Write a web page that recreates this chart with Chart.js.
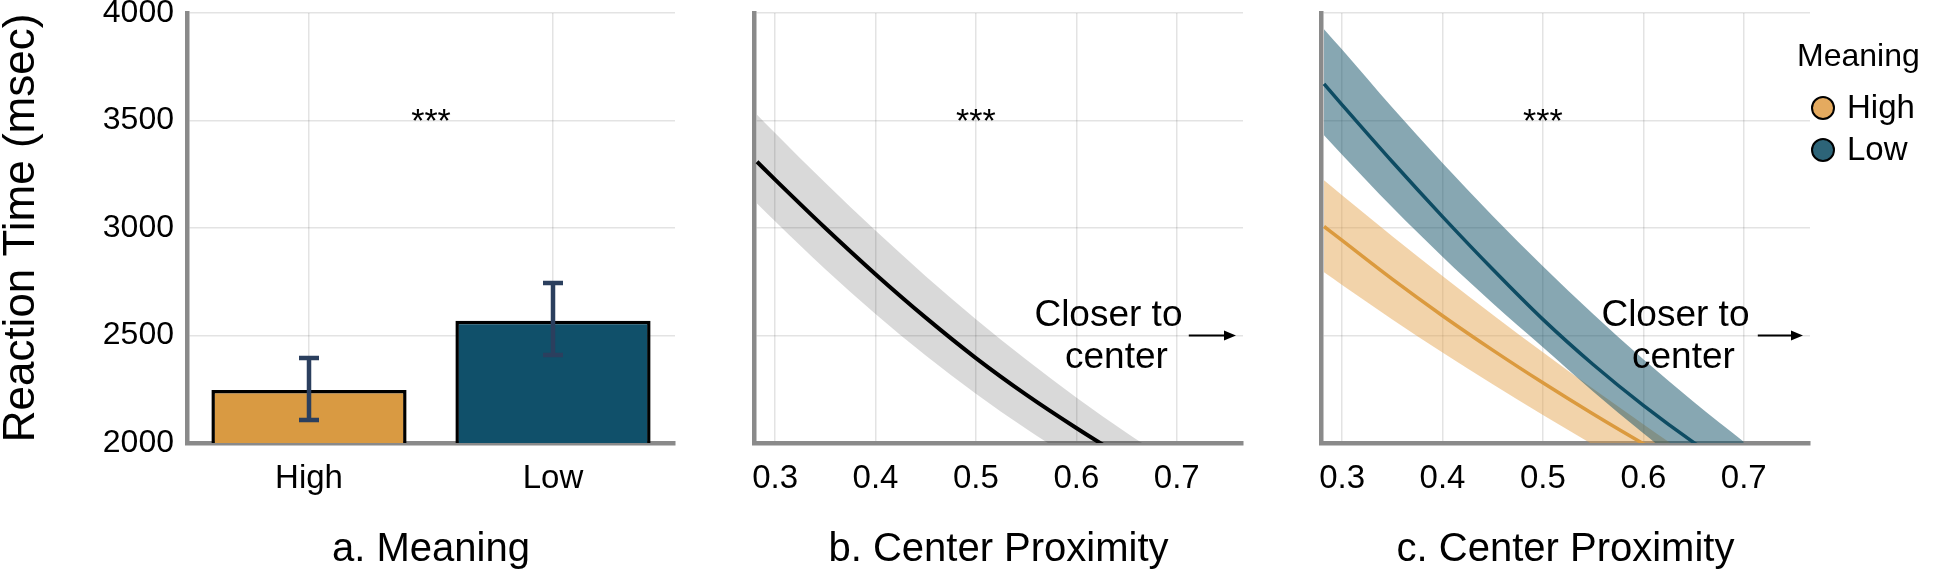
<!DOCTYPE html>
<html><head><meta charset="utf-8">
<script src="https://cdn.jsdelivr.net/npm/chart.js@4.4.1/dist/chart.umd.min.js"></script>
<style>
html,body{margin:0;padding:0;background:#fff;width:1933px;height:574px;overflow:hidden;}
.p{position:absolute;top:0;height:574px;}
</style></head><body>
<div class="p" style="left:0;width:700px"><canvas id="ca"></canvas></div>
<div class="p" style="left:730px;width:533px"><canvas id="cb"></canvas></div>
<div class="p" style="left:1297px;width:636px"><canvas id="cc"></canvas></div>
<script>
// ---------- data ----------
const meaningCats = ['High', 'Low'];
const meanRT = [2246, 2569];
const errLow = [2107, 2409];
const errHigh = [2395, 2744];

const proxX = [0.282, 0.30, 0.35, 0.40, 0.45, 0.50, 0.55, 0.60, 0.65, 0.70];
const allFit   = [3308, 3225, 3000, 2785, 2583, 2395, 2225, 2070, 1925, 1790];
const allUpper = [3527, 3442, 3210, 2988, 2776, 2576, 2388, 2212, 2048, 1896];
const allLower = [3114, 3031, 2808, 2600, 2407, 2229, 2066, 1918, 1785, 1667];

const highFit   = [3007, 2942, 2762, 2592, 2432, 2280, 2135, 1997, 1867, 1745];
const highUpper = [3222, 3152, 2962, 2777, 2597, 2422, 2252, 2087, 1927, 1772];
const highLower = [2794, 2735, 2575, 2421, 2273, 2130, 1992, 1859, 1730, 1605];

const lowFit   = [3670, 3573, 3308, 3053, 2808, 2575, 2365, 2175, 2003, 1848];
const lowUpper = [3925, 3830, 3560, 3302, 3056, 2822, 2600, 2390, 2192, 2006];
const lowLower = [3431, 3341, 3096, 2866, 2650, 2445, 2240, 2045, 1860, 1690];

const yTicks = [2000, 2500, 3000, 3500, 4000];
const yTickLabels = ['2000', '2500', '3000', '3500', '4000'];
const xTicks = [0.3, 0.4, 0.5, 0.6, 0.7];
const xTickLabels = ['0.3', '0.4', '0.5', '0.6', '0.7'];
const legendLabels = ['High', 'Low'];

// ---------- styles ----------
const FONT = "'Liberation Sans', Arial, Helvetica, sans-serif";
Chart.defaults.font.family = FONT;
Chart.defaults.color = '#000';
const GRID = 'rgba(0,0,0,0.11)';
const AXIS = '#8a8a8a';
const ORANGE = '#D99A42';

function pts(xs, ys) { return xs.map((x, i) => ({x: x, y: ys[i]})); }

function yScale(showLabels, w) {
  return {
    type: 'linear', min: 2000, max: 4000,
    afterBuildTicks: s => { s.ticks = yTicks.map(v => ({value: v})); },
    grid: {color: GRID, lineWidth: 1.5, drawTicks: false},
    border: {color: AXIS, width: 4.5},
    ticks: {display: showLabels, padding: 13, font: {size: 32, lineHeight: 1}, color: '#000',
            callback: (v, i) => yTickLabels[i]},
    title: showLabels ? {display: true, text: 'Reaction Time (msec)', font: {size: 44, lineHeight: 1}, padding: 0, color: '#000'} : {display: false},
    afterFit: s => { s.width = w; s.paddingTop = 0; s.paddingBottom = 0; }
  };
}
function xTitle(t) {
  return {display: true, text: t, font: {size: 40, lineHeight: 1.2}, padding: 0, color: '#000'};
}
function xLinear(t) {
  return {
    type: 'linear', min: 0.279, max: 0.766,
    afterBuildTicks: s => { s.ticks = xTicks.map(v => ({value: v})); },
    grid: {color: GRID, lineWidth: 1.5, drawTicks: false},
    border: {color: AXIS, width: 4.5},
    ticks: {padding: 16, font: {size: 33, lineHeight: 1.2}, color: '#000', callback: (v, i) => xTickLabels[i]},
    title: xTitle(t),
    afterFit: s => { s.height = 131; s.paddingLeft = 0; s.paddingRight = 0; }
  };
}

// ---------- plugins ----------
const errorBars = {
  id: 'errorBars',
  afterDatasetsDraw(chart) {
    const meta = chart.getDatasetMeta(0);
    const y = chart.scales.y;
    const ctx = chart.ctx;
    ctx.save();
    ctx.strokeStyle = '#2B3F5E';
    ctx.lineWidth = 4.5;
    meta.data.forEach((bar, i) => {
      const yl = y.getPixelForValue(errLow[i]);
      const yh = y.getPixelForValue(errHigh[i]);
      ctx.beginPath();
      ctx.moveTo(bar.x, yl); ctx.lineTo(bar.x, yh);
      ctx.moveTo(bar.x - 10, yl); ctx.lineTo(bar.x + 10, yl);
      ctx.moveTo(bar.x - 10, yh); ctx.lineTo(bar.x + 10, yh);
      ctx.stroke();
    });
    ctx.restore();
  }
};

const annot = {
  id: 'annot',
  afterDraw(chart, args, o) {
    const ctx = chart.ctx, xs = chart.scales.x, ys = chart.scales.y;
    ctx.save();
    ctx.fillStyle = '#000';
    ctx.strokeStyle = '#000';
    if (o.stars) {
      ctx.font = '34px ' + FONT;
      ctx.textAlign = 'center';
      ctx.textBaseline = 'alphabetic';
      ctx.fillText('***', xs.getPixelForValue(o.stars.x), ys.getPixelForValue(o.stars.y));
    }
    if (o.note) {
      const n = o.note;
      ctx.font = '37px ' + FONT;
      ctx.textAlign = 'center';
      ctx.textBaseline = 'middle';
      const nx = xs.getPixelForValue(n.x);
      ctx.fillText('Closer to', nx, ys.getPixelForValue(n.y1));
      ctx.fillText('center', nx + 8, ys.getPixelForValue(n.y2));
      const x0 = xs.getPixelForValue(n.ax0), x1 = xs.getPixelForValue(n.ax1), ay = ys.getPixelForValue(n.ay);
      ctx.lineWidth = 2;
      ctx.beginPath(); ctx.moveTo(x0, ay); ctx.lineTo(x1 - 8, ay); ctx.stroke();
      ctx.beginPath(); ctx.moveTo(x1, ay); ctx.lineTo(x1 - 12, ay - 5); ctx.lineTo(x1 - 12, ay + 5); ctx.closePath(); ctx.fill();
    }
    ctx.restore();
  }
};

const meaningLegend = {
  id: 'meaningLegend',
  afterDraw(chart, args, o) {
    const ctx = chart.ctx;
    ctx.save();
    ctx.fillStyle = '#000';
    ctx.textBaseline = 'middle';
    ctx.textAlign = 'left';
    ctx.font = '32px ' + FONT;
    ctx.fillText(o.title, o.x, o.y0);
    ctx.font = '33px ' + FONT;
    legendLabels.forEach((lab, i) => {
      const cy = o.y1 + i * o.dy;
      ctx.beginPath();
      ctx.arc(o.x + 26, cy, 11, 0, Math.PI * 2);
      ctx.fillStyle = o.colors[i];
      ctx.fill();
      ctx.lineWidth = 2;
      ctx.strokeStyle = '#000';
      ctx.stroke();
      ctx.fillStyle = '#000';
      ctx.fillText(lab, o.x + 50, cy + 1);
    });
    ctx.restore();
  }
};

const common = {
  responsive: true, maintainAspectRatio: false, animation: false, events: [],
};

// ---------- panel a ----------
new Chart(document.getElementById('ca'), {
  type: 'bar',
  data: {
    labels: meaningCats,
    datasets: [{
      data: meanRT,
      backgroundColor: [ORANGE, '#10506A'],
      borderColor: '#000', borderWidth: 3.5,
      barPercentage: 0.8, categoryPercentage: 1.0
    }]
  },
  options: Object.assign({}, common, {
    layout: {padding: {top: 13, right: 25, bottom: 0, left: 0}},
    plugins: {legend: {display: false}, tooltip: {enabled: false},
      annot: {stars: {x: 0.5, y: 3448}}},
    scales: {
      x: {
        type: 'category', offset: true,
        grid: {color: GRID, lineWidth: 1.5, drawTicks: false, offset: false},
        border: {color: AXIS, width: 4.5},
        ticks: {padding: 16, font: {size: 33, lineHeight: 1.2}, color: '#000'},
        title: xTitle('a. Meaning'),
        afterFit: s => { s.height = 131; s.paddingLeft = 0; s.paddingRight = 0; }
      },
      y: yScale(true, 187)
    }
  }),
  plugins: [errorBars, annot]
});

// ---------- panel b ----------
new Chart(document.getElementById('cb'), {
  type: 'line',
  data: {
    datasets: [
      {data: pts(proxX, allFit), borderColor: '#000', borderWidth: 4, pointRadius: 0, fill: false, cubicInterpolationMode: 'monotone'},
      {data: pts(proxX, allUpper), borderWidth: 0, pointRadius: 0, backgroundColor: 'rgba(0,0,0,0.15)', fill: '+1', cubicInterpolationMode: 'monotone'},
      {data: pts(proxX, allLower), borderWidth: 0, pointRadius: 0, fill: false, cubicInterpolationMode: 'monotone'}
    ]
  },
  options: Object.assign({}, common, {
    layout: {padding: {top: 13, right: 20, bottom: 0, left: 0}},
    plugins: {legend: {display: false}, tooltip: {enabled: false},
      annot: {stars: {x: 0.5, y: 3448}, note: {x: 0.632, y1: 2590, y2: 2395, ax0: 0.712, ax1: 0.759, ay: 2500}}},
    scales: {x: xLinear('b. Center Proximity'), y: yScale(false, 24)}
  }),
  plugins: [annot]
});

// ---------- panel c ----------
new Chart(document.getElementById('cc'), {
  type: 'line',
  data: {
    datasets: [
      {label: 'Low', data: pts(proxX, lowFit), borderColor: '#0E4C63', borderWidth: 3.5, pointRadius: 0, fill: false, cubicInterpolationMode: 'monotone'},
      {label: 'High', data: pts(proxX, highFit), borderColor: '#DB9A3E', borderWidth: 3.5, pointRadius: 0, fill: false, cubicInterpolationMode: 'monotone'},
      {data: pts(proxX, lowUpper), borderWidth: 0, pointRadius: 0, backgroundColor: 'rgba(16,80,102,0.5)', fill: '+1', cubicInterpolationMode: 'monotone'},
      {data: pts(proxX, lowLower), borderWidth: 0, pointRadius: 0, fill: false, cubicInterpolationMode: 'monotone'},
      {data: pts(proxX, highUpper), borderWidth: 0, pointRadius: 0, backgroundColor: 'rgba(226,158,66,0.45)', fill: '+1', cubicInterpolationMode: 'monotone'},
      {data: pts(proxX, highLower), borderWidth: 0, pointRadius: 0, fill: false, cubicInterpolationMode: 'monotone'}
    ]
  },
  options: Object.assign({}, common, {
    layout: {padding: {top: 13, right: 123, bottom: 0, left: 0}},
    plugins: {legend: {display: false}, tooltip: {enabled: false},
      annot: {stars: {x: 0.5, y: 3448}, note: {x: 0.632, y1: 2590, y2: 2395, ax0: 0.714, ax1: 0.759, ay: 2500}},
      meaningLegend: {title: 'Meaning', x: 500, y0: 57, y1: 108, dy: 42, colors: ['#E4AA5F', '#2D6478']}},
    scales: {x: xLinear('c. Center Proximity'), y: yScale(false, 24)}
  }),
  plugins: [annot, meaningLegend]
});
</script>
</body></html>
